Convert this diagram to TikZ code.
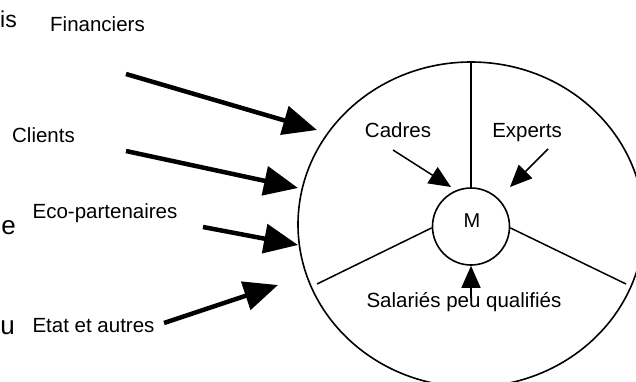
\documentclass[tikz,border=0pt]{standalone}
\usepackage{fontspec}
\setmainfont{Liberation Sans}
\usetikzlibrary{arrows.meta,shapes.geometric}

\tikzset{
  lbl/.style={anchor=base,inner sep=0pt,font=\fontsize{20.5}{24}\selectfont},
  cutlbl/.style={anchor=base east,inner sep=0pt,font=\fontsize{26}{30}\selectfont},
  rim/.style={draw,line width=1.6pt,inner sep=0pt},
  spoke/.style={line width=1.5pt},
  bigarrow/.style={line width=4.5pt,-{Triangle[length=34pt,width=29pt]}},
  smallarrow/.style={line width=1.5pt,-{Triangle[length=22pt,width=19pt]}}
}

\begin{document}
\begin{tikzpicture}[x=1pt,y=-1pt]
\fill[white] (0,0) rectangle (636,381);
\useasboundingbox (0,0) rectangle (636,381);
\node[cutlbl,font=\fontsize{23}{27}\selectfont] (cutis) at (17,27.7) {is};
\node[cutlbl] (cute) at (16,234) {e};
\node[cutlbl] (cutu) at (15,334) {u};
\node[lbl] (financiers) at (97.5,31) {Financiers};
\node[lbl] (clients) at (43.5,142.3) {Clients};
\node[lbl] (eco) at (105,218) {Eco-partenaires};
\node[lbl] (etat) at (93.5,332) {Etat et autres};
\node[rim,ellipse,minimum width=346pt,minimum height=325pt] (org) at (471,224.5) {};
\node[rim,circle,minimum size=77pt] (m) at (471,226.5) {};
\node[lbl,font=\fontsize{20}{24}\selectfont] (mtext) at (472,227) {M};
\node[lbl] (cadres) at (398,137) {Cadres};
\node[lbl] (experts) at (527,137) {Experts};
\node[lbl] (salaries) at (464,307) {Salariés peu qualifiés};
\coordinate (leftend) at (317,284);
\coordinate (rightend) at (626,284);
\draw[spoke] (org.north) -- (m.north);
\draw[spoke] (m.182) -- (leftend);
\draw[spoke] (m.-2) -- (rightend);
\coordinate (fintail) at (126,74);
\coordinate (fintip) at (317,130);
\coordinate (clitail) at (126,151);
\coordinate (clitip) at (298,188);
\coordinate (ecotail) at (203,227);
\coordinate (ecotip) at (298,245);
\coordinate (etattail) at (164,323);
\coordinate (etattip) at (278,285);
\draw[bigarrow] (fintail) -- (fintip);
\draw[bigarrow] (clitail) -- (clitip);
\draw[bigarrow] (ecotail) -- (ecotip);
\draw[bigarrow] (etattail) -- (etattip);
\coordinate (cadtail) at (393,150);
\coordinate (cadtip) at (451,187);
\coordinate (exptail) at (548,149);
\coordinate (exptip) at (510,187);
\coordinate (saltail) at (471,298);
\draw[smallarrow] (cadtail) -- (cadtip);
\draw[smallarrow] (exptail) -- (exptip);
\draw[smallarrow] (saltail) -- (m.south);
\end{tikzpicture}
\end{document}
